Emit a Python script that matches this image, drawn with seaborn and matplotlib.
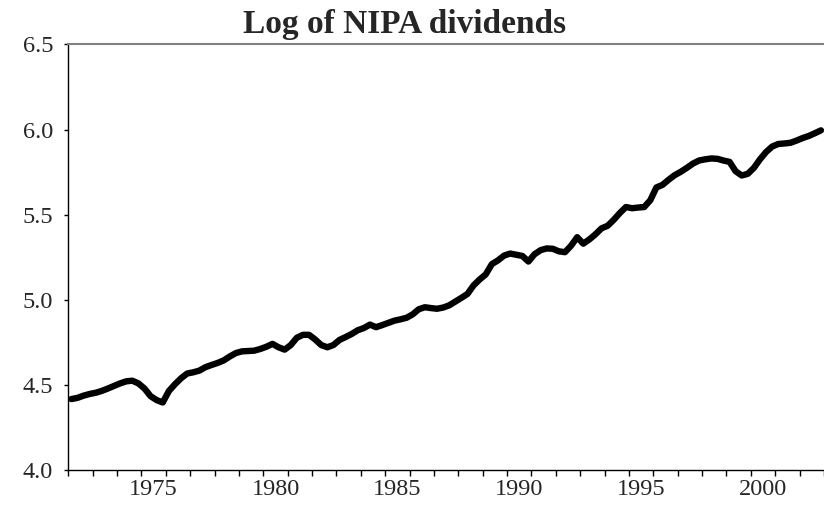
import numpy as np
import pandas as pd
import matplotlib.pyplot as plt
import matplotlib.ticker as ticker
import seaborn as sns

# @title Data (quarterly, 1972Q1 - 2002Q4)
quarters = pd.period_range('1972Q1', '2002Q4', freq='Q')
log_div = [
    4.418, 4.425, 4.438, 4.448,   # 1972
    4.455, 4.466, 4.480, 4.495,   # 1973
    4.510, 4.522, 4.526, 4.510,   # 1974
    4.480, 4.435, 4.412, 4.398,   # 1975
    4.465, 4.505, 4.540, 4.568,   # 1976
    4.575, 4.585, 4.605, 4.618,   # 1977
    4.630, 4.645, 4.668, 4.688,   # 1978
    4.698, 4.700, 4.702, 4.712,   # 1979
    4.725, 4.742, 4.722, 4.708,   # 1980
    4.735, 4.778, 4.795, 4.795,   # 1981
    4.768, 4.735, 4.722, 4.735,   # 1982
    4.765, 4.782, 4.800, 4.822,   # 1983
    4.835, 4.855, 4.840, 4.852,   # 1984
    4.865, 4.878, 4.886, 4.895,   # 1985
    4.915, 4.945, 4.957, 4.952,   # 1986
    4.948, 4.955, 4.968, 4.990,   # 1987
    5.012, 5.035, 5.085, 5.120,   # 1988
    5.150, 5.210, 5.232, 5.260,   # 1989
    5.272, 5.265, 5.258, 5.225,   # 1990
    5.268, 5.292, 5.302, 5.300,   # 1991
    5.285, 5.280, 5.318, 5.368,   # 1992
    5.330, 5.355, 5.385, 5.420,   # 1993
    5.435, 5.470, 5.510, 5.545,   # 1994
    5.538, 5.542, 5.545, 5.585,   # 1995
    5.660, 5.675, 5.705, 5.732,   # 1996
    5.752, 5.775, 5.800, 5.818,   # 1997
    5.825, 5.830, 5.828, 5.818,   # 1998
    5.810, 5.755, 5.730, 5.740,   # 1999
    5.775, 5.825, 5.868, 5.900,   # 2000
    5.915, 5.918, 5.922, 5.935,   # 2001
    5.950, 5.962, 5.978, 5.995,   # 2002
]
year_labels = [1975, 1980, 1985, 1990, 1995, 2000]
y_ticks = [4.0, 4.5, 5.0, 5.5, 6.0, 6.5]

df = pd.DataFrame({
    'date': quarters.year + (quarters.quarter - 0.5) / 4,
    'value': log_div,
})

# @title Style
sns.set_style('ticks')
plt.rcParams['font.family'] = ['Liberation Serif', 'DejaVu Serif']
plt.rcParams['xtick.labelsize'] = 17.5
plt.rcParams['ytick.labelsize'] = 17.5

fig = plt.figure(figsize=(8.24, 5.05), dpi=100)
ax = fig.add_axes([68.3 / 824, 1 - 470.3 / 505, 1 - 68.3 / 824, (470.3 - 44.3) / 505])

sns.lineplot(data=df, x='date', y='value', color='black', lw=4.6, ax=ax)

ax.set_xlim(1972, 2003)
ax.set_ylim(4.0, 6.5)
ax.set_yticks(y_ticks)
ax.yaxis.set_major_formatter(ticker.FormatStrFormatter('%.1f'))

# ticks at year boundaries, labels centred in the year
ax.xaxis.set_major_locator(ticker.MultipleLocator(1))
ax.xaxis.set_major_formatter(ticker.NullFormatter())
ax.set_xticks([y + 0.5 for y in year_labels], minor=True)
ax.set_xticklabels([str(y) for y in year_labels], minor=True)
ax.tick_params(axis='x', which='major', length=4.2, width=1, direction='out', color='black')
ax.tick_params(axis='x', which='minor', length=0, pad=6)
ax.tick_params(axis='y', length=3, width=1, pad=8, color='black')

for side in ['left', 'bottom']:
    ax.spines[side].set_color('black')
    ax.spines[side].set_linewidth(1)
ax.spines['top'].set_visible(True)
ax.spines['top'].set_color('#808080')
ax.spines['top'].set_linewidth(1.5)
ax.spines['right'].set_visible(False)

ax.set_xlabel('')
ax.set_ylabel('')

fig.text(405 / 824, 1 - 33 / 505, 'Log of NIPA dividends', ha='center', va='baseline',
         fontsize=24, fontweight='bold')

plt.savefig('out.png', dpi=100)
